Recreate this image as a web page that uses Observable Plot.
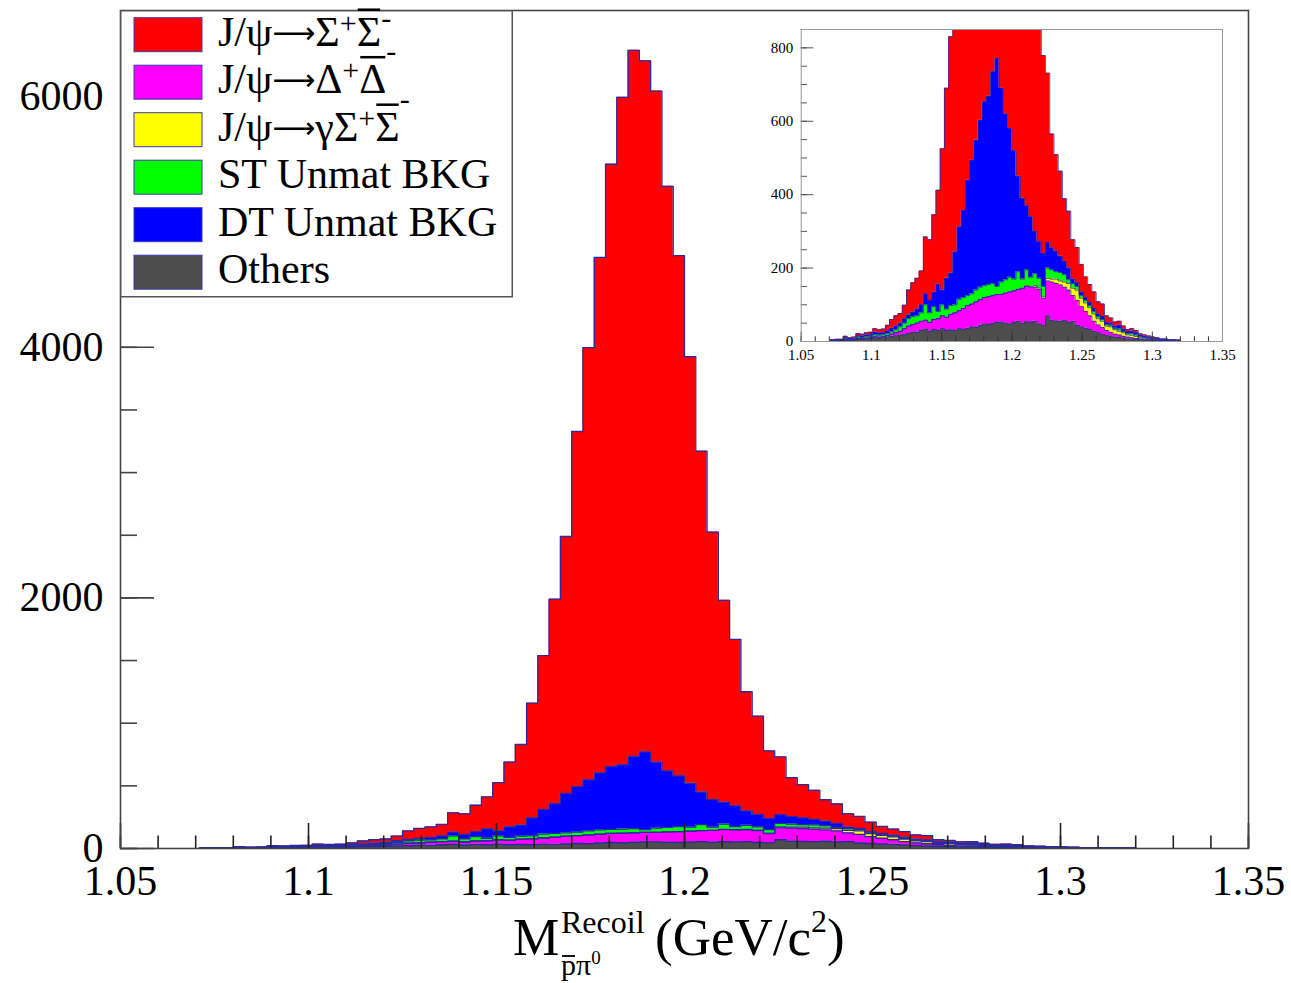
<!DOCTYPE html>
<html>
<head>
<meta charset="utf-8">
<script src="https://cdn.jsdelivr.net/npm/d3@7"></script>
<script src="https://cdn.jsdelivr.net/npm/@observablehq/plot@0.6"></script>
<style>
  html,body{margin:0;padding:0;background:#fff;}
  #wrap{position:relative;width:1291px;height:983px;overflow:hidden;}
  #wrap > svg{position:absolute;left:0;top:0;}
</style>
</head>
<body>
<div id="wrap"></div>
<script>
// ---------------- data ----------------
const binWidth = 0.003;        // GeV/c^2 per bin
const firstBinLeft = 1.071;    // left edge of first non-empty bin
const seriesKeys   = ["Sigma", "Delta", "Gamma", "ST", "DT", "Others"];   // legend order
const stackOrder   = ["Others", "Delta", "Gamma", "ST", "DT", "Sigma"];   // bottom -> top
const seriesColors = ["#ff0000", "#ff00ff", "#ffff00", "#00ff00", "#0000ff", "#4d4d4d"];

const others = [2,2,3,4,3,4,6,6,7,8, 10,9,10,12,14,16,18,20,22,26, 25,30,34,28,33,30,35,30,32,30,
  35,33,36,40,38,44,48,46,50,52, 53,50,48,52,55,50,54,52,55,48, 45,70,58,56,55,58,52,55,44,40,
  36,33,28,24,20,16,15,12,11,9, 7,7,6,5,4,4,3,3,2,2, 1,1,1];
const delta = [0,1,0,1,1,1,2,2,2,2, 3,3,3,4,6,8,10,15,20,20, 25,25,24,24,27,32,35,36,42,48,
  49,57,62,62,70,70,72,76,75,76, 75,82,87,86,87,95,96,96,93,94, 73,95,104,102,99,90,88,70,68,55,
  46,37,27,21,18,14,10,8,7,5, 5,3,2,2,2,1,1,0,0,0, 0,0,0];
const gamma = [0,0,0,0,0,0,0,0,0,0, 0,0,0,0,0,0,0,0,0,0, 0,0,0,0,0,0,0,0,0,0,
  0,0,0,0,0,0,0,0,0,0, 0,0,0,0,0,0,2,2,4,4, 4,7,8,12,11,14,18,20,28,23,
  23,22,20,17,17,12,15,12,10,10, 6,7,6,3,3,2,2,2,1,1, 1,1,1];
const stUnmat = [1,1,1,2,2,2,4,3,4,4, 5,5,5,5,6,8,12,15,20,22, 20,23,42,26,35,20,30,22,24,22,
  31,30,27,28,32,34,32,33,33,22, 34,36,40,32,48,25,43,25,33,26, 28,28,25,20,23,20,10,13,10,7,
  7,6,7,6,5,4,4,4,6,3, 4,5,4,3,2,2,1,1,1,1, 1,1,0];
const dtUnmat = [1,1,1,3,2,2,4,4,5,5, 7,6,6,8,10,10,10,12,10,12, 18,22,30,34,39,74,40,84,88,144,
  197,237,314,364,408,455,501,513,577,621, 528,452,405,350,260,220,175,165,115,100, 90,70,60,55,44,36,32,12,10,10,
  8,8,8,7,8,6,6,6,10,7, 5,6,6,4,3,3,3,2,2,2, 1,1,1];
const sigma = [1,1,1,4,2,3,6,5,6,6, 10,9,10,15,24,28,26,37,68,80, 84,92,155,165,211,256,385,518,644,916,
  1228,1633,2051,2834,3449,4114,4808,5327,5635,5515, 5355,4665,4151,3405,2721,2135,1611,1329,951,784,
  539,461,310,264,232,171,155,107,96,75, 56,49,45,33,34,18,14,11,11,8, 6,7,6,4,4,3,2,2,1,1, 1,1,1];

const legendLabels = [
  [{t:"J/ψ"}, {t:"⟶", arrow:true}, {t:"Σ"}, {t:"+", sup:-13}, {t:"Σ", bar:true}, {t:"-", sup:-18}],
  [{t:"J/ψ"}, {t:"⟶", arrow:true}, {t:"Δ"}, {t:"+", sup:-13}, {t:"Δ", bar:true}, {t:"-", sup:-32}],
  [{t:"J/ψ"}, {t:"⟶", arrow:true}, {t:"γΣ"}, {t:"+", sup:-13}, {t:"Σ", bar:true}, {t:"-", sup:-32}],
  [{t:"ST Unmat BKG"}],
  [{t:"DT Unmat BKG"}],
  [{t:"Others"}]
];

const xMajorTicks = [1.05, 1.1, 1.15, 1.2, 1.25, 1.3, 1.35];
const xTickLabels = ["1.05", "1.1", "1.15", "1.2", "1.25", "1.3", "1.35"];
const xMinorTicks = d3.range(105, 136).map(d => d / 100);
const yMajorTicks = [0, 2000, 4000, 6000];
const yMinorTicks = d3.range(0, 6501, 500);
const insetYTicks = [0, 200, 400, 600, 800];
const insetYMinor = d3.range(0, 851, 50);
const mainYMax = 6688;
const insetYMax = 850;

// ---------------- table ----------------
const valuesOf = {Sigma: sigma, Delta: delta, Gamma: gamma, ST: stUnmat, DT: dtUnmat, Others: others};
const nBins = sigma.length;
const rows = [];
for (let i = 0; i <= nBins; i++) {
  const x1 = +(firstBinLeft + i * binWidth).toFixed(4);
  const j = Math.min(i, nBins - 1);          // closing point at right edge of last bin
  for (const s of stackOrder) rows.push({series: s, x1, count: valuesOf[s][j]});
}

const outline = "#2a2aa0";
const font = "'Liberation Serif', 'Times New Roman', serif";
const fmtX = d => xTickLabels[xMajorTicks.indexOf(d)];

function histMarks(clip, sw) {
  return [
    Plot.areaY(rows, {x: "x1", y: "count", z: "series", fill: "series", order: stackOrder, curve: "step-after", clip}),
    Plot.lineY(rows, Plot.stackY2({x: "x1", y: "count", z: "series", order: stackOrder, stroke: outline, strokeWidth: sw, curve: "step-after", clip}))
  ];
}

// ---------------- main ----------------
const W = 1291, H = 983, mL = 120, mR = 43, mT = 10, mB = 135;
const iW = W - mL - mR, iH = H - mT - mB;
const main = Plot.plot({
  width: W, height: H, marginLeft: mL, marginRight: mR, marginTop: mT, marginBottom: mB,
  style: {fontFamily: font, color: "#000", background: "transparent", overflow: "visible"},
  x: {domain: [1.05, 1.35]},
  y: {domain: [0, mainYMax]},
  color: {domain: seriesKeys, range: seriesColors},
  marks: [
    ...histMarks(false, 1.3),
    Plot.ruleX(xMinorTicks, {insetTop: iH - 12.5, stroke: "#222", strokeWidth: 1.6}),
    Plot.ruleX(xMajorTicks, {insetTop: iH - 25, stroke: "#222", strokeWidth: 1.6}),
    Plot.ruleY(yMinorTicks, {insetRight: iW - 17, stroke: "#444", strokeWidth: 1.6}),
    Plot.ruleY(yMajorTicks, {insetRight: iW - 34, stroke: "#444", strokeWidth: 1.6}),
    Plot.frame({stroke: "#444", strokeWidth: 1.6}),
    Plot.axisX(xMajorTicks, {tickSize: 0, tickPadding: 17, fontSize: 42, tickFormat: fmtX, label: null}),
    Plot.axisY(yMajorTicks, {tickSize: 0, tickPadding: 17, fontSize: 42, tickFormat: d => String(d), label: null})
  ]
});

// ---------------- inset ----------------
const iwW = 505, iwH = 360, imL = 60.7, imR = 23, imT = 19, imB = 29;
const iiW = iwW - imL - imR, iiH = iwH - imT - imB;
const inset = Plot.plot({
  width: iwW, height: iwH, marginLeft: imL, marginRight: imR, marginTop: imT, marginBottom: imB,
  style: {fontFamily: font, color: "#000", background: "transparent", overflow: "visible"},
  x: {domain: [1.05, 1.35]},
  y: {domain: [0, insetYMax]},
  color: {domain: seriesKeys, range: seriesColors},
  marks: [
    ...histMarks(true, 0.8),
    Plot.ruleX(xMinorTicks, {insetTop: iiH - 4.7, stroke: "#333", strokeWidth: 1}),
    Plot.ruleX(xMajorTicks, {insetTop: iiH - 9.4, stroke: "#333", strokeWidth: 1}),
    Plot.ruleY(insetYMinor, {insetRight: iiW - 6.3, stroke: "#555", strokeWidth: 1}),
    Plot.ruleY(insetYTicks, {insetRight: iiW - 12.6, stroke: "#555", strokeWidth: 1}),
    Plot.frame({stroke: "#999", strokeWidth: 1}),
    Plot.axisX(xMajorTicks, {tickSize: 0, tickPadding: 8, fontSize: 15, tickFormat: fmtX, label: null}),
    Plot.axisY(insetYTicks, {tickSize: 0, tickPadding: 8, fontSize: 15, tickFormat: d => String(d), label: null})
  ]
});
inset.style.left = "740px";
inset.style.top = "10px";

const wrap = document.getElementById("wrap");
wrap.appendChild(main);
wrap.appendChild(inset);

// ---------------- legend + axis title ----------------
const over = d3.select(wrap).append("svg")
  .attr("width", W).attr("height", H)
  .style("pointer-events", "none")
  .style("font-family", font);

over.append("rect").attr("x", 120.75).attr("y", 10.75).attr("width", 391.5).attr("height", 286)
  .attr("fill", "#fff").attr("stroke", "#555").attr("stroke-width", 1.5);

function overbar(textSel, charIndex, yBar, width) {
  const ext = textSel.node().getExtentOfChar(charIndex);
  over.append("line").attr("x1", ext.x + 1).attr("x2", ext.x + ext.width - 1)
    .attr("y1", yBar).attr("y2", yBar).attr("stroke", "#000").attr("stroke-width", width);
}

seriesKeys.forEach((key, i) => {
  const top = 17.7 + 47.5 * i;
  const base = top + 28;
  over.append("rect").attr("x", 134).attr("y", top).attr("width", 68).attr("height", 34)
    .attr("fill", seriesColors[i]).attr("stroke", "#3a3ab0").attr("stroke-width", 1);
  const txt = over.append("text").attr("x", 218).attr("y", base).attr("font-size", 42).attr("fill", "#000");
  let shift = 0, idx = 0;
  const bars = [];
  legendLabels[i].forEach(p => {
    const ts = txt.append("tspan").text(p.t);
    let target = p.sup !== undefined ? p.sup : 0;
    if (p.arrow) target = -3;
    if (target !== shift) { ts.attr("dy", target - shift); shift = target; }
    if (p.sup !== undefined) ts.attr("font-size", 30);
    if (p.arrow) ts.attr("font-family", "'DejaVu Sans', sans-serif").attr("font-size", 30);
    if (p.bar) bars.push(idx);
    idx += p.t.length;
  });
  bars.forEach(b => overbar(txt, b, base - 36, 2.5));
});

// x-axis title: M^{Recoil}_{p̄π0} (GeV/c^2)
const ttl = over.append("g").attr("fill", "#000");
ttl.append("text").attr("x", 513).attr("y", 955).attr("font-size", 52).text("M");
ttl.append("text").attr("x", 561).attr("y", 933).attr("font-size", 32).text("Recoil");
const sub = ttl.append("text").attr("x", 561).attr("y", 975).attr("font-size", 30);
sub.append("tspan").text("p");
sub.append("tspan").text("π");
sub.append("tspan").attr("font-size", 19).attr("dy", -11).text("0");
overbar(sub, 0, 956, 1.8);
const unit = ttl.append("text").attr("x", 655).attr("y", 955).attr("font-size", 53);
unit.append("tspan").text("(GeV/c");
unit.append("tspan").attr("font-size", 32).attr("dy", -23).text("2");
unit.append("tspan").attr("dy", 23).text(")");
</script>
</body>
</html>
